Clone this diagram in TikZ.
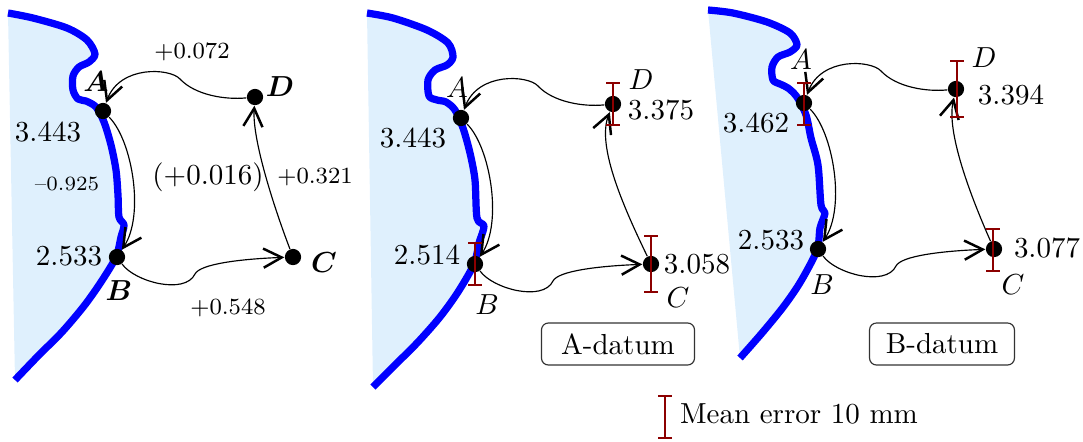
\documentclass[tikz,border=0pt]{standalone}
\usepackage{bm}
\usetikzlibrary{arrows.meta}
\definecolor{seafill}{RGB}{223,240,253}
\definecolor{errred}{RGB}{140,0,0}
\newcommand\coastpanel[1]{%
  \fill[seafill] plot[smooth,tension=0.5] coordinates {#1} -- cycle;
  \draw[coast] plot[smooth,tension=0.5] coordinates {#1};}
\begin{document}
\begin{tikzpicture}[x=0.345pt,y=-0.345pt,
  coast/.style={draw=blue,line width=2.5pt,line join=round},
  pt/.style={circle,fill=black,inner sep=0pt,minimum size=5.6pt},
  conn/.style={line width=0.4pt,-{Straight Barb[length=6.3pt,width=6.6pt,line width=0.85pt]}},
  errbar/.style={draw=errred,line width=0.6pt,{Bar[width=4.8pt,line width=0.6pt]}-{Bar[width=4.8pt,line width=0.6pt]}},
  lbl/.style={inner sep=0pt},
  smalllbl/.style={inner sep=0pt,font=\footnotesize},
  tinylbl/.style={inner sep=0pt,font=\scriptsize},
  datum/.style={draw=black!80,rounded corners=2.4pt,line width=0.4pt,minimum height=14.5pt,inner sep=0pt}
]
\useasboundingbox (0,0) rectangle (1083,441);

% coastlines
\coastpanel{(8,13) (33,18) (67,28) (87,40) (95,54) (89,62) (79,67) (73,76) (73,90) (78,99) (86,101) (96,107) (104,122) (111,145) (116,170) (118,195) (119,217) (124,225) (121,237) (116,257) (101,282) (84,306) (62,332) (38,356) (15,380)}
\coastpanel{(367,13) (393,18) (427,30) (448,43) (453,57) (447,65) (435,70) (428,80) (429,96) (437,100) (446,102) (455,110) (463,128) (470,153) (475,180) (477,218) (484,226) (479,243) (474,264) (458,292) (440,317) (418,342) (395,365) (373,387)}
\coastpanel{(708,10) (733,13) (767,22) (790,33) (797,45) (790,52) (778,57) (772,67) (773,80) (780,84) (788,88) (797,97) (806,115) (811,138) (818,165) (821,205) (825,213) (820,228) (817,250) (801,281) (784,306) (762,333) (740,358)}

% networks
\foreach \i/\sx/\sy/\cax/\cay/\cbx/\cby in {1/0/0/275/210/252/140, 2/358/7/268/205/238/140, 3/701/-8/270/205/245/140}{
  \begin{scope}[shift={(\sx,\sy)}]
    \node[pt] (a\i) at (103,111) {};
    \node[pt] (b\i) at (117,257) {};
    \node[pt] (c\i) at (293,257) {};
    \node[pt] (d\i) at (255,97) {};
    \draw[conn] (d\i) .. controls (225,100) and (195,95) .. (180,79) .. controls (170,68) and (120,65) .. (a\i);
    \draw[conn] (a\i) .. controls (132,140) and (145,215) .. (b\i);
    \draw[conn] (b\i) .. controls (135,282) and (185,295) .. (195,274) .. controls (200,264) and (240,259) .. (c\i);
    \draw[conn] (c\i) .. controls (\cax,\cay) and (\cbx,\cby) .. (d\i);
  \end{scope}
}

% error bars
\draw[errbar] (475,242) -- (475,286);
\draw[errbar] (613,82) -- (613,126);
\draw[errbar] (651,235) -- (651,293);
\draw[errbar] (804,82) -- (804,126);
\draw[errbar] (957,60) -- (957,118);
\draw[errbar] (993,228) -- (993,272);

% panel 1 labels
\node[lbl] (la1) at (96,82) {$\bm{A}$};
\node[lbl] (ld1) at (280,87) {$\bm{D}$};
\node[lbl] (lc1) at (324,263) {$\bm{C}$};
\node[lbl] (lb1) at (119,291) {$\bm{B}$};
\node[lbl] (va1) at (48,132) {3.443};
\node[lbl] (vb1) at (69,256) {2.533};
\node[tinylbl] (dab) at (67,184) {--0.925};
\node[smalllbl] (dda) at (192,52) {+0.072};
\node[lbl] (mis) at (208,177) {(+0.016)};
\node[smalllbl] (dcd) at (315,177) {+0.321};
\node[smalllbl] (dbc) at (228,308) {+0.548};

% panel 2 labels
\node[lbl] (la2) at (457,88) {$A$};
\node[lbl] (ld2) at (641,80) {$D$};
\node[lbl] (lc2) at (678,298) {$C$};
\node[lbl] (lb2) at (487,305) {$B$};
\node[lbl] (va2) at (413,138) {3.443};
\node[lbl] (vb2) at (427,255) {2.514};
\node[lbl] (vd2) at (661,110) {3.375};
\node[lbl] (vc2) at (697,264) {3.058};
\node[datum,minimum width=52.8pt] (dA) at (618,344) {A-datum};

% panel 3 labels
\node[lbl] (la3) at (801,60) {$A$};
\node[lbl] (ld3) at (984,58) {$D$};
\node[lbl] (lc3) at (1013,285) {$C$};
\node[lbl] (lb3) at (822,285) {$B$};
\node[lbl] (va3) at (756,123) {3.462};
\node[lbl] (vb3) at (771,240) {2.533};
\node[lbl] (vd3) at (1011,95) {3.394};
\node[lbl] (vc3) at (1047,248) {3.077};
\node[datum,minimum width=50pt] (dB) at (942,344) {B-datum};

% legend
\draw[errbar] (665,395) -- (665,439);
\node[lbl] (leg) at (799,414) {Mean error 10 mm};
\end{tikzpicture}
\end{document}
